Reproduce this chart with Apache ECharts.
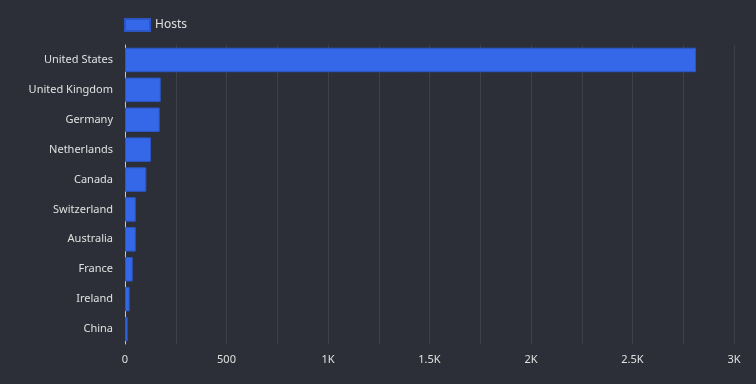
<!DOCTYPE html>
<html><head><meta charset="utf-8">
<script src="https://cdn.jsdelivr.net/npm/echarts@6/dist/echarts.min.js"></script>
<style>html,body{margin:0;padding:0;background:#2c2f37;}#c{width:756px;height:384px;}</style>
</head><body><div id="c"></div>
<script>
const categories = ["United States","United Kingdom","Germany","Netherlands","Canada","Switzerland","Australia","France","Ireland","China"];
const hosts = [2813,176,171,128,105,53,53,38,23,13];
const tickLabels = {0:"0",500:"500",1000:"1K",1500:"1.5K",2000:"2K",2500:"2.5K",3000:"3K"};

const chart = echarts.init(document.getElementById('c'));
chart.setOption({
  backgroundColor:'#2c2f37',
  textStyle:{fontFamily:'"Noto Sans", "Open Sans", sans-serif'},
  legend:{left:119,top:13,itemWidth:25,itemHeight:12,itemGap:10,icon:'rect',
    textStyle:{color:'#e0e0e0',fontSize:12,fontFamily:'"Noto Sans", sans-serif'},
    data:['Hosts']},
  grid:{left:125,right:22,top:45,bottom:40},
  xAxis:{type:'value',min:0,max:3000,interval:250,
    axisLine:{show:false},axisTick:{show:false},
    splitLine:{show:true,lineStyle:{color:'#3d4049',width:1}},
    axisLabel:{color:'#e0e0e0',fontSize:11,margin:10,
      formatter:v=> (v%500===0 ? tickLabels[v] : '')}},
  yAxis:{type:'category',inverse:true,data:categories,
    axisLine:{show:true,lineStyle:{color:'#c8c8c8',width:1}},
    axisTick:{show:false},
    axisLabel:{color:'#e0e0e0',fontSize:11,margin:12}},
  series:[{name:'Hosts',type:'bar',data:hosts,barCategoryGap:'18%',
    itemStyle:{color:'#3468e8',borderColor:'#2b56c4',borderWidth:1}}]
});
</script></body></html>
